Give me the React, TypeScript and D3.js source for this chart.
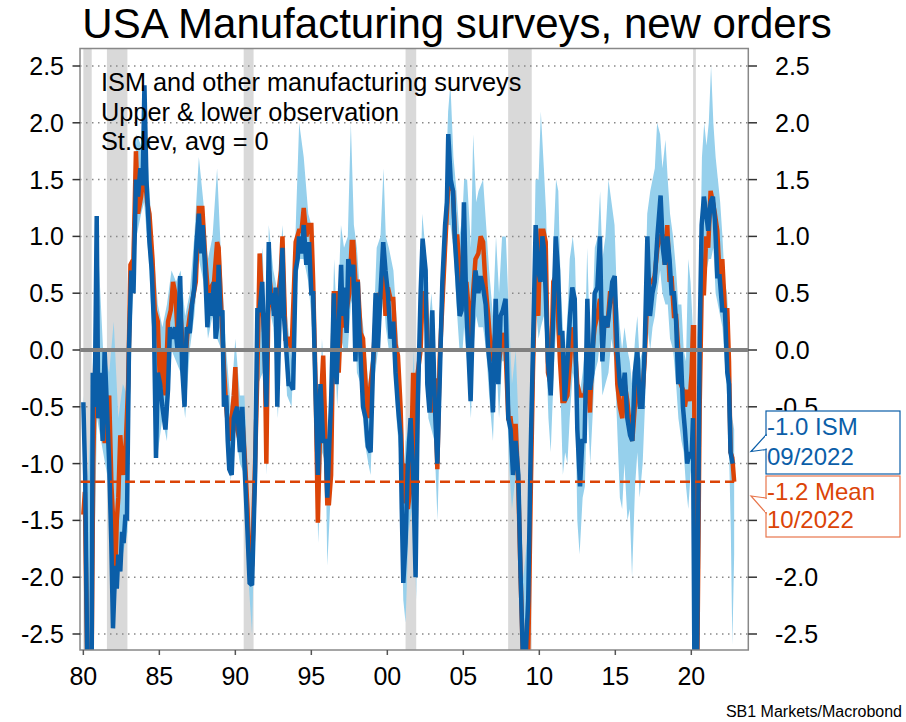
import React from 'react';
import * as d3 from 'd3';

// ISM new orders (std.dev, avg = 0)
const ismSeries: [number, number][] = [
  [1980.0,-0.46],[1980.12,-1.1],[1980.25,-2.7],[1980.55,-2.7],[1980.62,-0.2],[1980.75,-0.5],[1980.88,1.18],[1980.98,-0.6],
  [1981.1,-0.2],[1981.27,-0.8],[1981.4,0.0],[1981.55,-0.5],[1981.7,-1.0],[1981.84,-1.7],[1981.95,-2.45],[1982.1,-1.9],
  [1982.2,-2.1],[1982.3,-1.8],[1982.43,-1.95],[1982.55,-1.6],[1982.65,-1.7],[1982.77,-1.45],[1982.87,-1.5],[1983.0,0.0],
  [1983.15,0.7],[1983.3,0.5],[1983.46,1.5],[1983.6,1.35],[1983.75,1.6],[1983.9,1.45],[1984.02,2.33],[1984.15,1.5],
  [1984.35,0.95],[1984.5,0.7],[1984.65,0.2],[1984.78,-0.95],[1984.9,-0.2],[1985.05,-0.3],[1985.2,-0.5],[1985.4,-0.7],
  [1985.57,-0.35],[1985.7,0.2],[1985.9,0.1],[1986.05,0.2],[1986.2,0.0],[1986.37,0.65],[1986.5,-0.15],[1986.66,-0.5],
  [1986.8,0.2],[1987.0,0.15],[1987.15,0.4],[1987.3,0.55],[1987.45,0.95],[1987.6,1.2],[1987.75,0.85],[1987.85,1.1],
  [1988.0,0.75],[1988.16,0.2],[1988.3,0.5],[1988.4,0.3],[1988.6,0.6],[1988.7,0.1],[1988.8,0.2],[1988.9,0.75],
  [1989.03,0.3],[1989.15,0.35],[1989.25,-0.5],[1989.4,-0.4],[1989.5,-0.8],[1989.6,-1.05],[1989.76,-1.1],[1989.9,-0.6],
  [1990.0,-0.55],[1990.13,-0.5],[1990.3,-0.9],[1990.46,-0.5],[1990.6,-1.0],[1990.8,-1.6],[1990.94,-2.05],[1991.1,-2.07],
  [1991.3,-1.1],[1991.45,0.35],[1991.6,0.35],[1991.77,0.6],[1991.93,-0.1],[1992.04,-0.5],[1992.2,0.95],[1992.3,0.4],
  [1992.43,0.5],[1992.55,0.3],[1992.65,0.55],[1992.76,-0.5],[1992.92,0.35],[1993.1,0.9],[1993.2,0.3],[1993.3,0.1],
  [1993.4,-0.1],[1993.5,-0.3],[1993.64,-0.3],[1993.8,-0.35],[1993.97,0.7],[1994.1,0.8],[1994.19,1.0],[1994.36,0.85],
  [1994.5,1.1],[1994.67,0.75],[1994.85,0.95],[1995.0,0.5],[1995.12,0.5],[1995.28,-0.4],[1995.43,-1.1],[1995.5,-0.7],
  [1995.6,-0.3],[1995.78,-0.8],[1995.94,-0.8],[1996.05,-1.3],[1996.16,-0.9],[1996.3,-0.45],[1996.48,0.5],[1996.56,0.0],
  [1996.66,-0.3],[1996.8,0.2],[1996.96,0.75],[1997.05,0.3],[1997.14,0.55],[1997.32,0.15],[1997.43,0.8],[1997.58,0.65],
  [1997.76,0.75],[1997.9,-0.1],[1998.06,0.6],[1998.15,0.2],[1998.24,-0.05],[1998.4,-0.5],[1998.57,-0.6],[1998.72,-0.85],
  [1998.9,-0.9],[1999.07,-0.1],[1999.23,0.5],[1999.38,0.0],[1999.55,0.5],[1999.73,0.95],[1999.88,0.7],[2000.04,0.5],
  [2000.21,0.1],[2000.39,0.25],[2000.54,-0.2],[2000.7,-0.5],[2000.87,-0.75],[2000.95,-1.4],[2001.05,-2.05],[2001.2,-1.7],
  [2001.35,-1.0],[2001.53,-0.6],[2001.7,-1.1],[2001.86,-2.0],[2002.0,-0.5],[2002.19,0.5],[2002.32,0.98],[2002.52,0.7],
  [2002.63,-0.3],[2002.78,-0.55],[2002.96,0.35],[2003.13,-0.5],[2003.29,-1.0],[2003.44,-0.3],[2003.62,0.6],[2003.8,1.1],
  [2003.92,1.3],[2004.01,1.9],[2004.17,1.5],[2004.32,1.4],[2004.45,0.95],[2004.6,0.65],[2004.76,0.3],[2004.89,0.35],
  [2005.04,1.3],[2005.2,0.35],[2005.33,0.0],[2005.48,-0.45],[2005.64,0.35],[2005.8,0.7],[2005.99,0.5],[2006.14,0.65],
  [2006.3,0.55],[2006.47,0.4],[2006.64,0.0],[2006.8,-0.2],[2006.95,-0.55],[2007.13,0.45],[2007.3,-0.3],[2007.45,0.3],
  [2007.6,0.35],[2007.78,0.45],[2007.96,-0.6],[2008.11,-0.7],[2008.27,-1.1],[2008.44,-0.8],[2008.62,-1.1],[2008.77,-2.0],
  [2008.92,-2.7],[2009.1,-2.7],[2009.27,-2.2],[2009.43,-0.9],[2009.58,0.0],[2009.76,1.1],[2009.93,0.7],[2010.08,0.6],
  [2010.2,1.0],[2010.3,0.9],[2010.42,0.5],[2010.57,-0.1],[2010.75,-0.4],[2010.92,0.3],[2011.08,1.0],[2011.23,0.7],
  [2011.36,0.15],[2011.52,0.15],[2011.67,-0.45],[2011.85,-0.1],[2012.02,0.3],[2012.17,0.55],[2012.33,0.45],[2012.5,-0.7],
  [2012.68,-1.2],[2012.83,-0.8],[2012.98,-0.8],[2013.16,0.45],[2013.33,-0.35],[2013.49,-0.2],[2013.64,0.5],[2013.82,0.55],
  [2013.99,1.0],[2014.15,-0.1],[2014.3,0.3],[2014.48,0.2],[2014.65,0.4],[2014.8,0.6],[2014.96,0.65],[2015.13,0.0],
  [2015.3,-0.3],[2015.46,-0.4],[2015.62,-0.2],[2015.79,-0.6],[2015.97,-0.75],[2016.12,-0.8],[2016.28,-0.2],[2016.45,0.0],
  [2016.62,-0.5],[2016.78,-0.5],[2016.93,0.0],[2017.11,1.0],[2017.28,0.3],[2017.44,0.5],[2017.59,0.6],[2017.77,1.0],
  [2017.98,1.36],[2018.13,0.9],[2018.26,0.75],[2018.42,1.0],[2018.57,0.8],[2018.7,0.5],[2018.86,0.5],[2019.0,0.25],
  [2019.14,-0.3],[2019.3,0.0],[2019.45,-0.5],[2019.58,-0.7],[2019.73,-1.0],[2019.89,-0.9],[2020.02,-0.95],[2020.11,-0.6],
  [2020.2,-2.7],[2020.38,-2.7],[2020.55,0.1],[2020.68,1.1],[2020.83,1.35],[2020.98,1.2],[2021.11,1.05],[2021.27,1.3],
  [2021.42,1.35],[2021.55,1.15],[2021.71,0.65],[2021.86,0.65],[2022.04,0.35],[2022.21,0.35],[2022.37,-0.2],[2022.48,-0.3],
  [2022.58,-0.9],[2022.72,-1.0],
];

// Mean of surveys
const meanSeries: [number, number][] = [
  [1980.0,-1.45],[1980.1,-1.25],[1980.25,-2.7],[1980.55,-2.7],[1980.65,-1.0],[1980.8,0.0],[1980.95,-0.3],[1981.1,-0.6],
  [1981.25,-0.45],[1981.4,-0.8],[1981.55,-0.8],[1981.7,-0.4],[1981.85,-1.2],[1982.0,-1.6],[1982.1,-2.0],[1982.2,-1.5],
  [1982.3,-1.3],[1982.43,-0.75],[1982.55,-1.0],[1982.65,-1.1],[1982.8,-0.8],[1982.95,-0.3],[1983.1,0.75],[1983.3,0.8],
  [1983.46,1.75],[1983.6,1.2],[1983.8,1.35],[1984.0,1.6],[1984.2,1.3],[1984.35,1.2],[1984.55,0.8],[1984.7,0.35],
  [1984.9,0.25],[1985.05,-0.35],[1985.2,0.0],[1985.4,-0.4],[1985.57,0.25],[1985.75,0.35],[1985.9,0.6],[1986.05,0.5],
  [1986.2,0.15],[1986.4,0.3],[1986.55,0.0],[1986.7,-0.1],[1986.85,0.15],[1987.0,0.3],[1987.2,0.45],[1987.4,0.6],
  [1987.6,1.25],[1987.83,1.25],[1988.0,0.85],[1988.2,0.5],[1988.4,0.55],[1988.6,0.6],[1988.8,0.95],[1988.9,0.9],
  [1989.03,0.5],[1989.25,-0.15],[1989.4,-0.5],[1989.6,-0.8],[1989.76,-0.6],[1989.9,-0.4],[1990.0,-0.15],[1990.13,-0.7],
  [1990.3,-0.8],[1990.46,-0.6],[1990.6,-0.9],[1990.8,-1.4],[1990.94,-1.95],[1991.1,-1.9],[1991.3,-1.0],[1991.45,-0.2],
  [1991.6,0.85],[1991.77,0.4],[1991.93,0.1],[1992.04,-1.0],[1992.2,0.7],[1992.43,0.4],[1992.65,0.3],[1992.8,0.45],
  [1993.0,0.7],[1993.1,1.0],[1993.3,0.1],[1993.5,0.1],[1993.7,0.0],[1993.97,0.95],[1994.19,1.05],[1994.36,1.05],
  [1994.5,1.25],[1994.67,1.0],[1994.85,1.1],[1995.0,1.1],[1995.12,0.6],[1995.28,-0.3],[1995.43,-1.52],[1995.6,-0.55],
  [1995.78,-0.05],[1995.94,-0.8],[1996.05,-1.35],[1996.16,-1.35],[1996.3,-1.1],[1996.48,0.5],[1996.66,0.5],[1996.8,-0.2],
  [1996.96,0.3],[1997.14,0.2],[1997.32,0.35],[1997.5,0.5],[1997.66,0.95],[1997.76,0.95],[1997.9,0.6],[1998.06,0.6],
  [1998.24,0.15],[1998.4,0.1],[1998.57,-0.3],[1998.72,-0.6],[1998.9,-0.3],[1999.07,-0.1],[1999.23,0.3],[1999.38,0.5],
  [1999.55,0.45],[1999.73,0.7],[1999.88,0.3],[2000.04,0.55],[2000.21,0.45],[2000.39,0.45],[2000.54,0.05],[2000.7,-0.05],
  [2000.87,-0.5],[2001.05,-1.35],[2001.2,-1.0],[2001.35,-1.4],[2001.53,-1.2],[2001.7,-0.2],[2001.86,-1.6],[2002.0,-0.2],
  [2002.19,0.0],[2002.32,0.5],[2002.52,0.5],[2002.67,0.0],[2002.78,-0.1],[2002.96,-0.55],[2003.13,-0.25],[2003.29,-1.05],
  [2003.44,-0.1],[2003.62,0.4],[2003.8,0.9],[2004.01,1.45],[2004.17,1.45],[2004.32,1.4],[2004.45,1.0],[2004.6,1.0],
  [2004.76,0.7],[2004.9,0.5],[2005.04,0.5],[2005.2,0.6],[2005.33,0.4],[2005.48,0.1],[2005.64,0.5],[2005.8,0.8],
  [2005.99,0.85],[2006.14,1.0],[2006.3,0.95],[2006.47,0.55],[2006.64,0.3],[2006.8,0.0],[2006.95,-0.1],[2007.13,0.2],
  [2007.3,-0.15],[2007.45,0.0],[2007.6,0.15],[2007.78,0.0],[2007.96,-0.6],[2008.11,-0.6],[2008.27,-0.8],[2008.44,-0.65],
  [2008.62,-1.2],[2008.77,-2.0],[2008.92,-2.7],[2009.1,-2.7],[2009.27,-2.7],[2009.43,-1.3],[2009.58,-0.2],[2009.76,0.75],
  [2009.93,0.3],[2010.08,1.05],[2010.27,1.05],[2010.42,0.95],[2010.57,-0.2],[2010.75,-0.3],[2010.92,0.6],[2011.08,0.65],
  [2011.23,0.3],[2011.36,-0.1],[2011.52,-0.45],[2011.67,-0.45],[2011.85,-0.4],[2012.02,-0.1],[2012.17,0.2],[2012.33,0.05],
  [2012.5,-0.3],[2012.68,-0.4],[2012.83,-0.4],[2012.98,-0.4],[2013.16,-0.2],[2013.33,-0.55],[2013.49,0.0],[2013.64,0.2],
  [2013.82,0.3],[2013.99,0.45],[2014.15,0.1],[2014.3,0.25],[2014.48,0.2],[2014.65,0.5],[2014.8,0.5],[2014.96,0.4],
  [2015.13,-0.3],[2015.3,-0.5],[2015.46,-0.6],[2015.62,-0.3],[2015.79,-0.45],[2015.97,-0.7],[2016.12,-0.8],[2016.28,-0.5],
  [2016.45,-0.2],[2016.62,-0.5],[2016.78,-0.4],[2016.93,-0.1],[2017.11,0.5],[2017.28,0.6],[2017.44,0.6],[2017.59,0.65],
  [2017.77,0.9],[2017.98,1.0],[2018.13,1.0],[2018.26,0.75],[2018.42,1.1],[2018.57,0.6],[2018.7,0.65],[2018.86,0.3],
  [2019.0,0.3],[2019.14,0.0],[2019.3,-0.3],[2019.45,-0.35],[2019.58,-0.5],[2019.73,-0.35],[2019.89,-0.45],[2020.02,-0.2],
  [2020.11,0.2],[2020.18,0.2],[2020.25,-2.7],[2020.4,-2.7],[2020.55,-0.5],[2020.68,0.5],[2020.83,0.5],[2020.98,1.0],
  [2021.11,0.9],[2021.27,1.4],[2021.42,1.3],[2021.55,1.2],[2021.71,1.05],[2021.86,0.65],[2022.04,0.8],[2022.21,0.35],
  [2022.37,0.35],[2022.48,-0.1],[2022.58,-0.9],[2022.7,-0.95],[2022.82,-1.16],
];

// Upper & lower observation across surveys: [year, lower, upper]
const bandSeries: [number, number, number][] = [
  [1980.0,-1.5,-0.4],[1980.3,-2.7,-1.2],[1980.6,-2.7,-0.2],[1980.9,-0.6,1.1],[1981.3,-0.9,0.0],[1981.7,-1.2,-0.2],
  [1982.0,-2.4,0.25],[1982.3,-1.9,-0.6],[1982.6,-1.8,-0.3],[1982.9,-1.6,-0.4],[1983.2,0.3,1.0],[1983.5,1.0,1.9],
  [1983.8,1.2,1.8],[1984.0,1.3,2.3],[1984.3,0.8,1.5],[1984.6,0.0,0.9],[1984.9,-0.9,0.4],[1985.2,-0.6,0.2],
  [1985.5,-0.8,0.4],[1985.8,0.0,0.7],[1986.1,-0.1,0.6],[1986.4,-0.2,0.7],[1986.7,-0.6,0.3],[1987.0,0.0,0.5],
  [1987.3,0.3,1.0],[1987.6,0.8,1.7],[1987.9,0.6,1.3],[1988.2,0.1,0.8],[1988.5,0.3,1.0],[1988.8,0.1,1.6],
  [1989.1,0.0,0.7],[1989.4,-0.6,0.0],[1989.7,-1.15,-0.5],[1990.0,-0.7,0.1],[1990.3,-1.0,-0.4],[1990.6,-1.1,-0.4],
  [1990.9,-2.1,-1.3],[1991.1,-2.5,-1.8],[1991.3,-1.3,-0.8],[1991.5,-0.3,0.5],[1991.8,-0.2,0.9],[1992.05,-1.1,-0.3],
  [1992.2,0.4,1.1],[1992.5,0.2,0.7],[1992.8,-0.6,0.5],[1993.1,0.5,1.1],[1993.4,-0.4,0.3],[1993.7,-0.5,-0.1],
  [1994.0,0.5,1.2],[1994.2,0.8,2.0],[1994.5,0.8,1.7],[1994.8,0.6,1.2],[1995.0,0.3,1.1],[1995.3,-0.6,-0.1],
  [1995.45,-1.7,-0.9],[1995.7,-0.9,0.1],[1995.95,-1.0,-0.5],[1996.05,-1.9,-1.1],[1996.3,-1.2,-0.3],[1996.5,0.2,0.8],
  [1996.7,-0.5,0.2],[1996.95,0.1,1.1],[1997.15,0.0,0.9],[1997.4,0.0,1.0],[1997.6,0.4,2.0],[1997.8,0.5,1.1],
  [1998.0,-0.2,0.9],[1998.25,-0.3,0.4],[1998.5,-0.8,0.1],[1998.75,-1.0,-0.3],[1998.9,-1.1,-0.1],[1999.1,-0.3,0.2],
  [1999.3,-0.1,0.9],[1999.55,0.2,1.0],[1999.75,0.5,1.6],[1999.9,0.2,1.0],[2000.1,0.0,0.9],[2000.4,0.0,0.7],
  [2000.6,-0.6,0.3],[2000.85,-1.0,-0.2],[2001.05,-2.2,-1.2],[2001.2,-2.4,-0.8],[2001.4,-1.6,-0.7],[2001.6,-1.4,-0.4],
  [2001.75,-1.3,0.0],[2001.9,-2.2,-1.3],[2002.05,-0.8,0.0],[2002.3,0.2,1.2],[2002.5,0.3,0.9],[2002.7,-0.6,0.2],
  [2002.9,-0.7,0.5],[2003.1,-0.8,0.1],[2003.3,-1.5,-0.6],[2003.5,-0.5,0.2],[2003.65,0.2,0.9],[2003.85,0.7,1.5],
  [2004.0,1.1,2.1],[2004.15,1.1,2.35],[2004.35,0.9,1.7],[2004.55,0.4,1.4],[2004.75,0.0,1.0],[2004.95,0.0,1.2],
  [2005.05,0.2,1.5],[2005.25,-0.1,1.5],[2005.5,-0.6,0.9],[2005.65,0.0,1.9],[2005.85,0.3,1.3],[2006.0,0.2,1.4],
  [2006.3,0.2,1.5],[2006.5,0.0,1.1],[2006.7,-0.4,0.7],[2006.95,-0.8,0.3],[2007.15,0.0,1.0],[2007.35,-0.6,0.5],
  [2007.55,-0.1,1.0],[2007.8,-0.1,1.0],[2008.0,-1.0,0.3],[2008.2,-1.4,-0.3],[2008.45,-1.1,0.0],[2008.65,-1.5,-0.7],
  [2008.8,-2.4,-1.5],[2008.95,-2.7,-2.0],[2009.25,-2.7,-1.6],[2009.45,-1.5,-0.6],[2009.6,-0.6,0.3],[2009.75,0.4,1.5],
  [2009.95,0.1,1.5],[2010.1,0.2,2.1],[2010.3,0.3,1.6],[2010.45,0.0,1.2],[2010.6,-0.6,0.3],[2010.75,-0.9,0.0],
  [2010.95,-0.2,1.0],[2011.1,0.2,1.5],[2011.25,0.0,1.4],[2011.4,-0.4,0.6],[2011.55,-1.1,0.2],[2011.7,-0.9,0.0],
  [2011.85,-1.0,0.3],[2012.0,-0.6,0.8],[2012.2,-0.2,1.0],[2012.35,-0.3,0.8],[2012.5,-1.5,0.0],[2012.65,-1.8,-0.4],
  [2012.85,-1.3,-0.2],[2013.0,-1.2,0.0],[2013.15,-0.4,0.9],[2013.35,-1.0,0.0],[2013.5,-0.6,0.3],[2013.65,-0.2,0.9],
  [2013.85,-0.1,1.0],[2014.0,0.1,1.4],[2014.15,-0.4,0.8],[2014.35,-0.3,1.0],[2014.55,-0.2,1.5],[2014.75,0.1,1.3],
  [2014.95,-0.1,1.1],[2015.1,-0.6,0.5],[2015.3,-1.3,0.2],[2015.45,-1.4,0.0],[2015.6,-1.0,0.2],[2015.8,-1.5,0.0],
  [2015.95,-1.4,-0.1],[2016.1,-2.0,-0.3],[2016.3,-1.2,0.1],[2016.45,-0.9,0.3],[2016.6,-1.3,-0.1],[2016.8,-1.0,0.0],
  [2016.95,-0.5,0.4],[2017.1,0.2,1.2],[2017.3,0.0,1.4],[2017.45,0.2,1.5],[2017.6,0.3,1.6],[2017.75,0.5,2.0],
  [2017.95,0.7,1.9],[2018.1,0.5,1.6],[2018.3,0.4,1.85],[2018.45,0.4,1.5],[2018.6,0.1,1.2],[2018.8,0.0,1.0],
  [2019.0,-0.3,0.7],[2019.15,-0.6,0.4],[2019.35,-0.8,0.4],[2019.5,-0.9,0.0],[2019.65,-1.2,-0.1],[2019.8,-1.4,0.8],
  [2019.95,-1.1,0.6],[2020.1,-0.9,0.2],[2020.2,-2.7,-0.4],[2020.4,-2.7,-1.0],[2020.55,-0.6,0.5],[2020.7,0.3,1.7],
  [2020.85,0.6,2.0],[2021.0,0.7,1.8],[2021.15,0.8,2.0],[2021.3,0.8,2.5],[2021.45,0.9,2.0],[2021.6,0.5,1.7],
  [2021.75,0.4,1.5],[2021.9,0.3,1.3],[2022.05,0.2,1.0],[2022.2,-0.1,0.6],[2022.35,-0.4,0.5],[2022.5,-1.0,0.1],
  [2022.6,-1.6,-0.5],[2022.7,-2.6,-0.6],[2022.82,-1.8,-0.7],
];

const recessions: [number, number][] = [
  [1980.0, 1980.55], [1981.55, 1982.9], [1990.55, 1991.2], [2001.2, 2001.9], [2007.95, 2009.5], [2020.12, 2020.3],
];

const yTicks = [-2.5, -2.0, -1.5, -1.0, -0.5, 0.0, 0.5, 1.0, 1.5, 2.0, 2.5];
// right-axis labels hidden behind the callout boxes in the reference
const rightHiddenTicks = [-1.0, -1.5];
const xTicks = [1980, 1985, 1990, 1995, 2000, 2005, 2010, 2015, 2020];
const xTickLabels = ['80', '85', '90', '95', '00', '05', '10', '15', '20'];
const noteLines = ['ISM and other manufacturing surveys', 'Upper & lower observation', 'St.dev, avg = 0'];
const lastMeanValue = -1.16;
const ismLabel = ['-1.0 ISM', '09/2022'];
const meanLabel = ['-1.2 Mean', '10/2022'];

const BLUE = '#0b5ea8';
const ORANGE = '#db4407';
const BAND = '#96d0ec';
const GREY = '#888888';
const FONT = "'Liberation Sans', Arial, Helvetica, sans-serif";

export default function App() {
  const W = 906, H = 722;
  const left = 80, right = 748.3, top = 48.5, bottom = 650;
  const x = d3.scaleLinear().domain([1979.78, 2023.75]).range([left, right]);
  const y = d3.scaleLinear().domain([-2.5, 2.5]).range([634, 66]);

  const line = d3.line<[number, number]>().x(d => x(d[0])).y(d => y(d[1]));
  const area = d3.area<[number, number, number]>().x(d => x(d[0])).y0(d => y(d[1])).y1(d => y(d[2]));

  const meanEnd = meanSeries[meanSeries.length - 1][0];

  return (
    <svg width={W} height={H} style={{ position: 'absolute', left: 0, top: 0, background: '#fff' }} fontFamily={FONT}>
      <defs>
        <clipPath id="plot">
          <rect x={left} y={top} width={right - left} height={bottom - top} />
        </clipPath>
      </defs>
      <rect x={0} y={0} width={W} height={H} fill="#fff" />
      <text x={457} y={38} fontSize={42} textAnchor="middle" fill="#000">USA Manufacturing surveys, new orders</text>

      <g clipPath="url(#plot)">
        {recessions.map((r, i) => (
          <rect key={i} x={x(r[0])} y={top} width={x(r[1]) - x(r[0])} height={bottom - top} fill="#d9d9d9" />
        ))}
        {yTicks.filter(t => t !== 0).map(t => (
          <line key={t} x1={left} x2={right} y1={y(t)} y2={y(t)} stroke={GREY} strokeWidth={1.5} strokeDasharray="1.5,4.5" />
        ))}
        <path d={area(bandSeries) || ''} fill={BAND} />
        <path d={line(meanSeries) || ''} fill="none" stroke={ORANGE} strokeWidth={4.5} strokeLinejoin="miter" strokeMiterlimit={2} />
        <path d={line(ismSeries) || ''} fill="none" stroke={BLUE} strokeWidth={4.5} strokeLinejoin="miter" strokeMiterlimit={2} />
        <line x1={left} x2={right} y1={y(0)} y2={y(0)} stroke="#808080" strokeWidth={4} />
        <line x1={left} x2={x(meanEnd)} y1={y(lastMeanValue)} y2={y(lastMeanValue)} stroke={ORANGE} strokeWidth={2.5} strokeDasharray="10,5" />
      </g>

      {noteLines.map((t, i) => (
        <text key={i} x={101} y={91 + i * 29.5} fontSize={25.3} fill="#000">{t}</text>
      ))}

      <rect x={left} y={top} width={right - left} height={bottom - top} fill="none" stroke={GREY} strokeWidth={1.5} />

      {yTicks.map(t => (
        <g key={t}>
          <line x1={72.5} x2={left} y1={y(t)} y2={y(t)} stroke="#333" strokeWidth={1.5} />
          <text x={64} y={y(t) + 9} fontSize={25} textAnchor="end" fill="#000">{t.toFixed(1)}</text>
          <line x1={right} x2={757} y1={y(t)} y2={y(t)} stroke="#333" strokeWidth={1.5} />
          {!rightHiddenTicks.includes(t) && (
            <text x={775} y={y(t) + 9} fontSize={25} textAnchor="start" fill="#000">{t.toFixed(1)}</text>
          )}
        </g>
      ))}

      {xTicks.map((t, i) => (
        <g key={t}>
          <line x1={x(t)} x2={x(t)} y1={bottom} y2={655} stroke="#555" strokeWidth={1.5} />
          <text x={x(t)} y={685} fontSize={25} textAnchor="middle" fill="#000">{xTickLabels[i]}</text>
        </g>
      ))}

      {/* ISM callout */}
      <rect x={766} y={411} width={134} height={63} fill="#fff" stroke={BLUE} strokeWidth={1.2} />
      <polygon points="766,435 751,451.5 766,449.5" fill="#fff" stroke={BLUE} strokeWidth={1.2} />
      <line x1={766} x2={766} y1={436} y2={448.5} stroke="#fff" strokeWidth={2} />
      <text x={767} y={435} fontSize={24} fill={BLUE}>{ismLabel[0]}</text>
      <text x={767} y={465} fontSize={24} fill={BLUE}>{ismLabel[1]}</text>

      {/* Mean callout */}
      <rect x={766} y={476} width={134} height={61} fill="#fff" stroke="#e8764c" strokeWidth={1.2} />
      <polygon points="766,498 751,496 766,513" fill="#fff" stroke="#e8764c" strokeWidth={1.2} />
      <line x1={766} x2={766} y1={499} y2={512} stroke="#fff" strokeWidth={2} />
      <text x={767} y={500} fontSize={24} fill={ORANGE}>{meanLabel[0]}</text>
      <text x={767} y={528} fontSize={24} fill={ORANGE}>{meanLabel[1]}</text>

      <text x={902} y={717} fontSize={16} textAnchor="end" fill="#000">SB1 Markets/Macrobond</text>
    </svg>
  );
}
